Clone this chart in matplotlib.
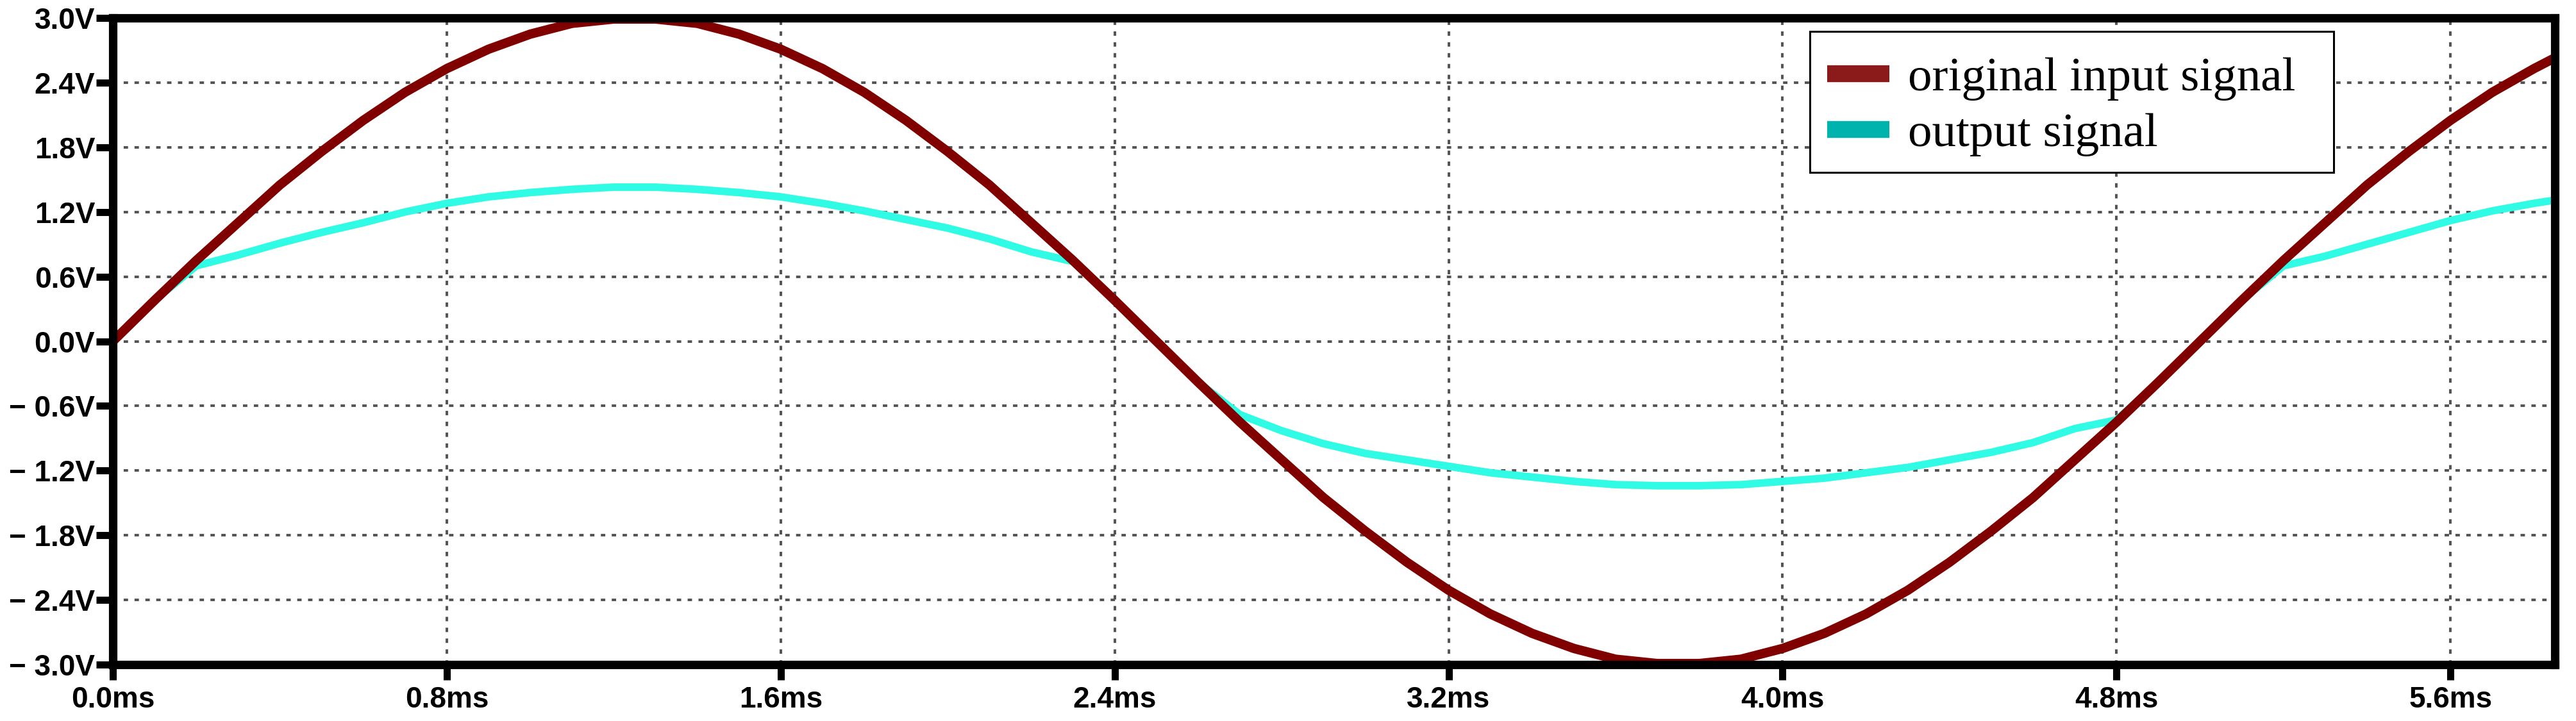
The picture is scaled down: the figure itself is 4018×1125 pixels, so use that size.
import matplotlib
matplotlib.use('Agg')
import matplotlib.pyplot as plt
from matplotlib.lines import Line2D
from matplotlib.patches import Rectangle

plt.rcParams['font.family'] = ['Liberation Sans', 'DejaVu Sans']

# time axis (ms) and signal values (V)
time_ms = [0.0, 0.1, 0.2, 0.3, 0.4, 0.5, 0.6, 0.7, 0.8, 0.9,
           1.0, 1.1, 1.2, 1.3, 1.4, 1.5, 1.6, 1.7, 1.8, 1.9,
           2.0, 2.1, 2.2, 2.3, 2.4, 2.5, 2.6, 2.7, 2.8, 2.9,
           3.0, 3.1, 3.2, 3.3, 3.4, 3.5, 3.6, 3.7, 3.8, 3.9,
           4.0, 4.1, 4.2, 4.3, 4.4, 4.5, 4.6, 4.7, 4.8, 4.9,
           5.0, 5.1, 5.2, 5.3, 5.4, 5.5, 5.6, 5.7, 5.8, 5.85]

input_v = [0.00, 0.38, 0.75, 1.10, 1.45, 1.76, 2.05, 2.31, 2.53, 2.71,
           2.85, 2.95, 2.99, 2.99, 2.95, 2.85, 2.71, 2.53, 2.31, 2.05,
           1.76, 1.45, 1.10, 0.75, 0.38, 0.00, -0.38, -0.75, -1.10, -1.45,
           -1.76, -2.05, -2.31, -2.53, -2.71, -2.85, -2.95, -2.99, -2.99, -2.95,
           -2.85, -2.71, -2.53, -2.31, -2.05, -1.76, -1.45, -1.10, -0.75, -0.38,
           0.00, 0.38, 0.75, 1.10, 1.45, 1.76, 2.05, 2.31, 2.53, 2.63]

output_v = [0.00, 0.38, 0.70, 0.80, 0.91, 1.01, 1.10, 1.20, 1.28, 1.34,
            1.38, 1.41, 1.43, 1.43, 1.41, 1.38, 1.34, 1.28, 1.21, 1.13,
            1.05, 0.95, 0.83, 0.74, 0.38, 0.00, -0.38, -0.68, -0.83, -0.95,
            -1.04, -1.10, -1.16, -1.22, -1.26, -1.30, -1.33, -1.34, -1.34, -1.33,
            -1.30, -1.27, -1.22, -1.17, -1.10, -1.03, -0.94, -0.81, -0.73, -0.38,
            0.00, 0.38, 0.70, 0.79, 0.90, 1.01, 1.12, 1.21, 1.28, 1.31]

x_ticks = [0.0, 0.8, 1.6, 2.4, 3.2, 4.0, 4.8, 5.6]
x_labels = ['0.0ms', '0.8ms', '1.6ms', '2.4ms', '3.2ms', '4.0ms', '4.8ms', '5.6ms']
y_ticks = [-3.0, -2.4, -1.8, -1.2, -0.6, 0.0, 0.6, 1.2, 1.8, 2.4, 3.0]
y_labels = ['\u2212 3.0V', '\u2212 2.4V', '\u2212 1.8V', '\u2212 1.2V', '\u2212 0.6V',
            '0.0V', '0.6V', '1.2V', '1.8V', '2.4V', '3.0V']
series_names = ['original input signal', 'output signal']

fig = plt.figure(figsize=(40.18, 11.25), dpi=100)
ax = fig.add_axes([0.0438, 0.0782, 0.948, 0.8969])

ax.plot(time_ms, output_v, color='#30FCE6', lw=8.5, solid_joinstyle='round')
ax.plot(time_ms, input_v, color='#800000', lw=10.5, solid_joinstyle='round')

ax.set_xlim(0, 5.85)
ax.set_ylim(-3, 3)
ax.set_xticks(x_ticks)
ax.set_xticklabels(x_labels)
ax.set_yticks(y_ticks)
ax.set_yticklabels(y_labels)

ax.grid(True, color='#555555', lw=2.9, linestyle=(0, (1.7, 2.5)))
for sp in ax.spines.values():
    sp.set_linewidth(9.5)
    sp.set_color('black')
ax.tick_params(axis='both', direction='out', width=8, labelsize=33)
ax.tick_params(axis='y', length=19, pad=1)
ax.tick_params(axis='x', length=17, pad=7)
for lab in ax.get_xticklabels() + ax.get_yticklabels():
    lab.set_fontweight('bold')

# legend box drawn separately so its padding matches the original
W, H = 4018, 1125
ax.add_patch(Rectangle((2823 / W, 1 - 269 / H), (3640 - 2823) / W, 220 / H,
                       transform=fig.transFigure, facecolor='white',
                       edgecolor='black', lw=2.2, zorder=5, clip_on=False))
handles = [Line2D([], [], color='#8B1A1A', lw=19, solid_capstyle='butt'),
           Line2D([], [], color='#00B3AD', lw=19, solid_capstyle='butt')]
leg = ax.legend(handles, series_names, loc='upper left',
                bbox_to_anchor=(2827 / W, 1 - 66 / H), bbox_transform=fig.transFigure,
                borderaxespad=0, prop={'family': 'Liberation Serif', 'size': 54},
                handlelength=1.3, handletextpad=0.38, borderpad=0.3,
                labelspacing=0.25, frameon=False)
leg.set_zorder(6)

fig.savefig('out.png', dpi=100)
